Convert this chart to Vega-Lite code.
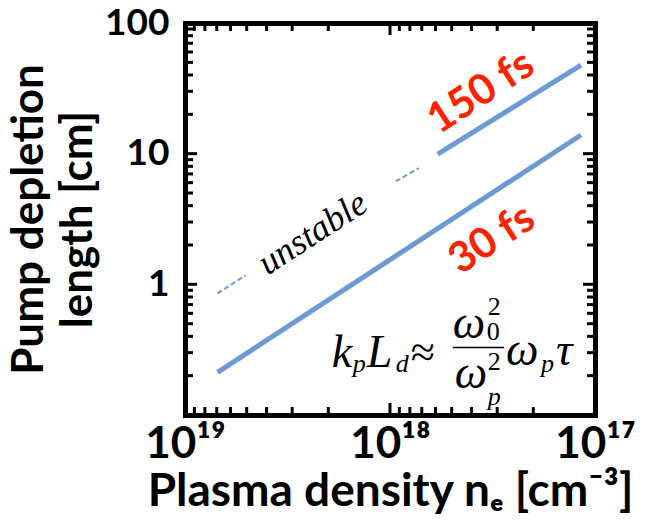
{
  "$schema": "https://vega.github.io/schema/vega-lite/v6.json",
  "width": 410,
  "height": 392,
  "autosize": "none",
  "padding": {"left": 185, "top": 23, "right": 51, "bottom": 113},
  "background": "white",
  "config": {
    "view": {"stroke": null, "fill": null},
    "tick": {"opacity": 1},
    "axis": {
      "grid": false,
      "domainColor": "black",
      "domainWidth": 5,
      "domainCap": "square",
      "ticks": false,
      "zindex": 1,
      "labelFont": "Lato",
      "labelFontWeight": "bold",
      "labelColor": "black",
      "labelFlush": false,
      "labelOverlap": false,
      "titleFont": "Lato",
      "titleFontWeight": "bold",
      "titleColor": "black"
    }
  },
  "datasets": {
    "depletion": [
      {"pulse": "30 fs", "regime": "stable", "seg": "30a", "n": 6.94e18, "L": 0.212},
      {"pulse": "30 fs", "regime": "stable", "seg": "30a", "n": 1.17e17, "L": 13.9},
      {"pulse": "150 fs", "regime": "stable", "seg": "150a", "n": 5.85e17, "L": 9.9},
      {"pulse": "150 fs", "regime": "stable", "seg": "150a", "n": 1.17e17, "L": 47.7},
      {"pulse": "150 fs", "regime": "unstable", "seg": "u1", "n": 6.94e18, "L": 0.853},
      {"pulse": "150 fs", "regime": "unstable", "seg": "u1", "n": 5.06e18, "L": 1.172},
      {"pulse": "150 fs", "regime": "unstable", "seg": "u2", "n": 9.37e17, "L": 6.15},
      {"pulse": "150 fs", "regime": "unstable", "seg": "u2", "n": 7.24e17, "L": 7.74}
    ],
    "xTicks": [
      {"n": 1e18, "kind": "major"},
      {"n": 2e17, "kind": "minor"}, {"n": 3e17, "kind": "minor"}, {"n": 4e17, "kind": "minor"},
      {"n": 5e17, "kind": "minor"}, {"n": 6e17, "kind": "minor"}, {"n": 7e17, "kind": "minor"},
      {"n": 8e17, "kind": "minor"}, {"n": 9e17, "kind": "minor"},
      {"n": 2e18, "kind": "minor"}, {"n": 3e18, "kind": "minor"}, {"n": 4e18, "kind": "minor"},
      {"n": 5e18, "kind": "minor"}, {"n": 6e18, "kind": "minor"}, {"n": 7e18, "kind": "minor"},
      {"n": 8e18, "kind": "minor"}, {"n": 9e18, "kind": "minor"}
    ],
    "yTicks": [
      {"L": 1, "kind": "major"}, {"L": 10, "kind": "major"},
      {"L": 0.2, "kind": "minor"}, {"L": 0.3, "kind": "minor"}, {"L": 0.4, "kind": "minor"},
      {"L": 0.5, "kind": "minor"}, {"L": 0.6, "kind": "minor"}, {"L": 0.7, "kind": "minor"},
      {"L": 0.8, "kind": "minor"}, {"L": 0.9, "kind": "minor"},
      {"L": 2, "kind": "minor"}, {"L": 3, "kind": "minor"}, {"L": 4, "kind": "minor"},
      {"L": 5, "kind": "minor"}, {"L": 6, "kind": "minor"}, {"L": 7, "kind": "minor"},
      {"L": 8, "kind": "minor"}, {"L": 9, "kind": "minor"},
      {"L": 20, "kind": "minor"}, {"L": 30, "kind": "minor"}, {"L": 40, "kind": "minor"},
      {"L": 50, "kind": "minor"}, {"L": 60, "kind": "minor"}, {"L": 70, "kind": "minor"},
      {"L": 80, "kind": "minor"}, {"L": 90, "kind": "minor"}
    ],
    "pulseLabels": [
      {"text": "150 fs", "n": 3.605e17, "L": 29.6},
      {"text": "30 fs", "n": 3.185e17, "L": 2.213}
    ],
    "regimeLabels": [
      {"text": "unstable", "n": 2.384e18, "L": 2.46}
    ],
    "formula": [
      {"part": "k", "role": "sym", "n": 1.925e18, "L": 0.2312},
      {"part": "p", "role": "sub", "n": 1.52e18, "L": 0.2118},
      {"part": "L", "role": "sym", "n": 1.299e18, "L": 0.2312},
      {"part": "d", "role": "sub", "n": 9.374e17, "L": 0.2118},
      {"part": "≈", "role": "op", "n": 7.92e17, "L": 0.2312},
      {"part": "ω", "role": "sym", "n": 4.938e17, "L": 0.3857},
      {"part": "2", "role": "num", "n": 3.332e17, "L": 0.5787},
      {"part": "0", "role": "num", "n": 3.37e17, "L": 0.3724},
      {"part": "ω", "role": "sym", "n": 4.829e17, "L": 0.1596},
      {"part": "2", "role": "num", "n": 3.332e17, "L": 0.2193},
      {"part": "p", "role": "sub", "n": 3.332e17, "L": 0.1203},
      {"part": "ω", "role": "sym", "n": 2.721e17, "L": 0.2394},
      {"part": "p", "role": "sub", "n": 1.834e17, "L": 0.2118},
      {"part": "τ", "role": "sym", "n": 1.55e17, "L": 0.2394}
    ],
    "fractionBar": [
      {"n": 4.938e17, "n2": 2.782e17, "L": 0.3291}
    ]
  },
  "layer": [
    {
      "data": {"name": "depletion"},
      "transform": [{"filter": "datum.regime === 'stable'"}],
      "mark": {"type": "line", "color": "#6b9bd2", "strokeWidth": 5, "strokeCap": "butt"},
      "encoding": {
        "x": {
          "field": "n", "type": "quantitative",
          "scale": {"type": "log", "domain": [1e17, 1e19], "reverse": true, "nice": false},
          "axis": {
            "orient": "bottom",
            "domain": true,
            "values": [1e17, 1e18, 1e19],
            "labelFontSize": 44,
            "labelPadding": 7,
            "labelExpr": "datum.value > 5e18 ? '10¹⁹' : datum.value > 5e17 ? '10¹⁸' : '10¹⁷'",
            "title": "Plasma density nₑ [cm⁻³]",
            "titleFontSize": 46,
            "titlePadding": 3
          }
        },
        "y": {
          "field": "L", "type": "quantitative",
          "scale": {"type": "log", "domain": [0.1, 100], "nice": false},
          "axis": {
            "orient": "left",
            "domain": true,
            "values": [0.1, 1, 10, 100],
            "labelFontSize": 37,
            "labelPadding": 16,
            "labelExpr": "datum.value < 0.5 ? '' : datum.value > 50 ? '100' : datum.value > 5 ? '10' : '1'",
            "title": ["Pump depletion", "length [cm]"],
            "titleFontSize": 44,
            "titleLineHeight": 49,
            "titlePadding": 4
          }
        },
        "detail": {"field": "seg"}
      }
    },
    {
      "data": {"name": "depletion"},
      "transform": [{"filter": "datum.regime === 'unstable'"}],
      "mark": {"type": "line", "color": "#6b9bd2", "strokeWidth": 2, "strokeDash": [5, 3]},
      "encoding": {
        "x": {"field": "n", "type": "quantitative", "scale": {"type": "log", "domain": [1e17, 1e19], "reverse": true, "nice": false}, "axis": null},
        "y": {"field": "L", "type": "quantitative", "scale": {"type": "log", "domain": [0.1, 100], "nice": false}, "axis": null},
        "detail": {"field": "seg"}
      }
    },
    {
      "data": {"name": "pulseLabels"},
      "mark": {"type": "text", "color": "#ff2200", "font": "Lato", "fontWeight": "bold", "fontSize": 42, "angle": -33, "align": "center", "baseline": "middle"},
      "encoding": {
        "x": {
          "field": "n", "type": "quantitative",
          "scale": {"type": "log", "domain": [1e17, 1e19], "reverse": true, "nice": false},
          "axis": {"orient": "top", "domain": true, "labels": false, "title": null}
        },
        "y": {
          "field": "L", "type": "quantitative",
          "scale": {"type": "log", "domain": [0.1, 100], "nice": false},
          "axis": {"orient": "right", "domain": true, "labels": false, "title": null}
        },
        "text": {"field": "text"}
      }
    },
    {
      "data": {"name": "regimeLabels"},
      "mark": {"type": "text", "color": "black", "font": "Liberation Serif", "fontStyle": "italic", "fontSize": 36, "angle": -33, "align": "center", "baseline": "middle"},
      "encoding": {
        "x": {"field": "n", "type": "quantitative", "scale": {"type": "log", "domain": [1e17, 1e19], "reverse": true, "nice": false}, "axis": null},
        "y": {"field": "L", "type": "quantitative", "scale": {"type": "log", "domain": [0.1, 100], "nice": false}, "axis": null},
        "text": {"field": "text"}
      }
    },
    {
      "data": {"name": "xTicks"},
      "transform": [{"filter": "datum.kind === 'major'"}],
      "mark": {"type": "tick", "orient": "vertical", "color": "black", "size": 12, "thickness": 3, "yOffset": -6},
      "encoding": {
        "x": {"field": "n", "type": "quantitative", "scale": {"type": "log", "domain": [1e17, 1e19], "reverse": true, "nice": false}, "axis": null},
        "y": {"datum": 0.1, "type": "quantitative", "scale": {"type": "log", "domain": [0.1, 100], "nice": false}, "axis": null}
      }
    },
    {
      "data": {"name": "xTicks"},
      "transform": [{"filter": "datum.kind === 'minor'"}],
      "mark": {"type": "tick", "orient": "vertical", "color": "black", "size": 8, "thickness": 3, "yOffset": -4},
      "encoding": {
        "x": {"field": "n", "type": "quantitative", "scale": {"type": "log", "domain": [1e17, 1e19], "reverse": true, "nice": false}, "axis": null},
        "y": {"datum": 0.1, "type": "quantitative", "scale": {"type": "log", "domain": [0.1, 100], "nice": false}, "axis": null}
      }
    },
    {
      "data": {"name": "xTicks"},
      "transform": [{"filter": "datum.kind === 'major'"}],
      "mark": {"type": "tick", "orient": "vertical", "color": "black", "size": 12, "thickness": 3, "yOffset": 6},
      "encoding": {
        "x": {"field": "n", "type": "quantitative", "scale": {"type": "log", "domain": [1e17, 1e19], "reverse": true, "nice": false}, "axis": null},
        "y": {"datum": 100, "type": "quantitative", "scale": {"type": "log", "domain": [0.1, 100], "nice": false}, "axis": null}
      }
    },
    {
      "data": {"name": "xTicks"},
      "transform": [{"filter": "datum.kind === 'minor'"}],
      "mark": {"type": "tick", "orient": "vertical", "color": "black", "size": 8, "thickness": 3, "yOffset": 4},
      "encoding": {
        "x": {"field": "n", "type": "quantitative", "scale": {"type": "log", "domain": [1e17, 1e19], "reverse": true, "nice": false}, "axis": null},
        "y": {"datum": 100, "type": "quantitative", "scale": {"type": "log", "domain": [0.1, 100], "nice": false}, "axis": null}
      }
    },
    {
      "data": {"name": "yTicks"},
      "transform": [{"filter": "datum.kind === 'major'"}],
      "mark": {"type": "tick", "orient": "horizontal", "color": "black", "size": 12, "thickness": 3, "xOffset": 6},
      "encoding": {
        "y": {"field": "L", "type": "quantitative", "scale": {"type": "log", "domain": [0.1, 100], "nice": false}, "axis": null},
        "x": {"datum": 1e19, "type": "quantitative", "scale": {"type": "log", "domain": [1e17, 1e19], "reverse": true, "nice": false}, "axis": null}
      }
    },
    {
      "data": {"name": "yTicks"},
      "transform": [{"filter": "datum.kind === 'minor'"}],
      "mark": {"type": "tick", "orient": "horizontal", "color": "black", "size": 8, "thickness": 3, "xOffset": 4},
      "encoding": {
        "y": {"field": "L", "type": "quantitative", "scale": {"type": "log", "domain": [0.1, 100], "nice": false}, "axis": null},
        "x": {"datum": 1e19, "type": "quantitative", "scale": {"type": "log", "domain": [1e17, 1e19], "reverse": true, "nice": false}, "axis": null}
      }
    },
    {
      "data": {"name": "yTicks"},
      "transform": [{"filter": "datum.kind === 'major'"}],
      "mark": {"type": "tick", "orient": "horizontal", "color": "black", "size": 12, "thickness": 3, "xOffset": -6},
      "encoding": {
        "y": {"field": "L", "type": "quantitative", "scale": {"type": "log", "domain": [0.1, 100], "nice": false}, "axis": null},
        "x": {"datum": 1e17, "type": "quantitative", "scale": {"type": "log", "domain": [1e17, 1e19], "reverse": true, "nice": false}, "axis": null}
      }
    },
    {
      "data": {"name": "yTicks"},
      "transform": [{"filter": "datum.kind === 'minor'"}],
      "mark": {"type": "tick", "orient": "horizontal", "color": "black", "size": 8, "thickness": 3, "xOffset": -4},
      "encoding": {
        "y": {"field": "L", "type": "quantitative", "scale": {"type": "log", "domain": [0.1, 100], "nice": false}, "axis": null},
        "x": {"datum": 1e17, "type": "quantitative", "scale": {"type": "log", "domain": [1e17, 1e19], "reverse": true, "nice": false}, "axis": null}
      }
    },
    {
      "data": {"name": "formula"},
      "transform": [{"filter": "datum.role === 'sym'"}],
      "mark": {"type": "text", "color": "black", "font": "Liberation Serif", "fontStyle": "italic", "fontSize": 46, "align": "left", "baseline": "alphabetic"},
      "encoding": {
        "x": {"field": "n", "type": "quantitative", "scale": {"type": "log", "domain": [1e17, 1e19], "reverse": true, "nice": false}, "axis": null},
        "y": {"field": "L", "type": "quantitative", "scale": {"type": "log", "domain": [0.1, 100], "nice": false}, "axis": null},
        "text": {"field": "part"}
      }
    },
    {
      "data": {"name": "formula"},
      "transform": [{"filter": "datum.role === 'op'"}],
      "mark": {"type": "text", "color": "black", "font": "Liberation Serif", "fontSize": 44, "align": "left", "baseline": "alphabetic"},
      "encoding": {
        "x": {"field": "n", "type": "quantitative", "scale": {"type": "log", "domain": [1e17, 1e19], "reverse": true, "nice": false}, "axis": null},
        "y": {"field": "L", "type": "quantitative", "scale": {"type": "log", "domain": [0.1, 100], "nice": false}, "axis": null},
        "text": {"field": "part"}
      }
    },
    {
      "data": {"name": "formula"},
      "transform": [{"filter": "datum.role === 'sub'"}],
      "mark": {"type": "text", "color": "black", "font": "Liberation Serif", "fontStyle": "italic", "fontSize": 26, "align": "left", "baseline": "alphabetic"},
      "encoding": {
        "x": {"field": "n", "type": "quantitative", "scale": {"type": "log", "domain": [1e17, 1e19], "reverse": true, "nice": false}, "axis": null},
        "y": {"field": "L", "type": "quantitative", "scale": {"type": "log", "domain": [0.1, 100], "nice": false}, "axis": null},
        "text": {"field": "part"}
      }
    },
    {
      "data": {"name": "formula"},
      "transform": [{"filter": "datum.role === 'num'"}],
      "mark": {"type": "text", "color": "black", "font": "Liberation Serif", "fontSize": 26, "align": "left", "baseline": "alphabetic"},
      "encoding": {
        "x": {"field": "n", "type": "quantitative", "scale": {"type": "log", "domain": [1e17, 1e19], "reverse": true, "nice": false}, "axis": null},
        "y": {"field": "L", "type": "quantitative", "scale": {"type": "log", "domain": [0.1, 100], "nice": false}, "axis": null},
        "text": {"field": "part"}
      }
    },
    {
      "data": {"name": "fractionBar"},
      "mark": {"type": "rule", "color": "black", "strokeWidth": 1.5},
      "encoding": {
        "x": {"field": "n", "type": "quantitative", "scale": {"type": "log", "domain": [1e17, 1e19], "reverse": true, "nice": false}, "axis": null},
        "x2": {"field": "n2"},
        "y": {"field": "L", "type": "quantitative", "scale": {"type": "log", "domain": [0.1, 100], "nice": false}, "axis": null}
      }
    }
  ],
  "resolve": {"axis": {"x": "independent", "y": "independent"}}
}
